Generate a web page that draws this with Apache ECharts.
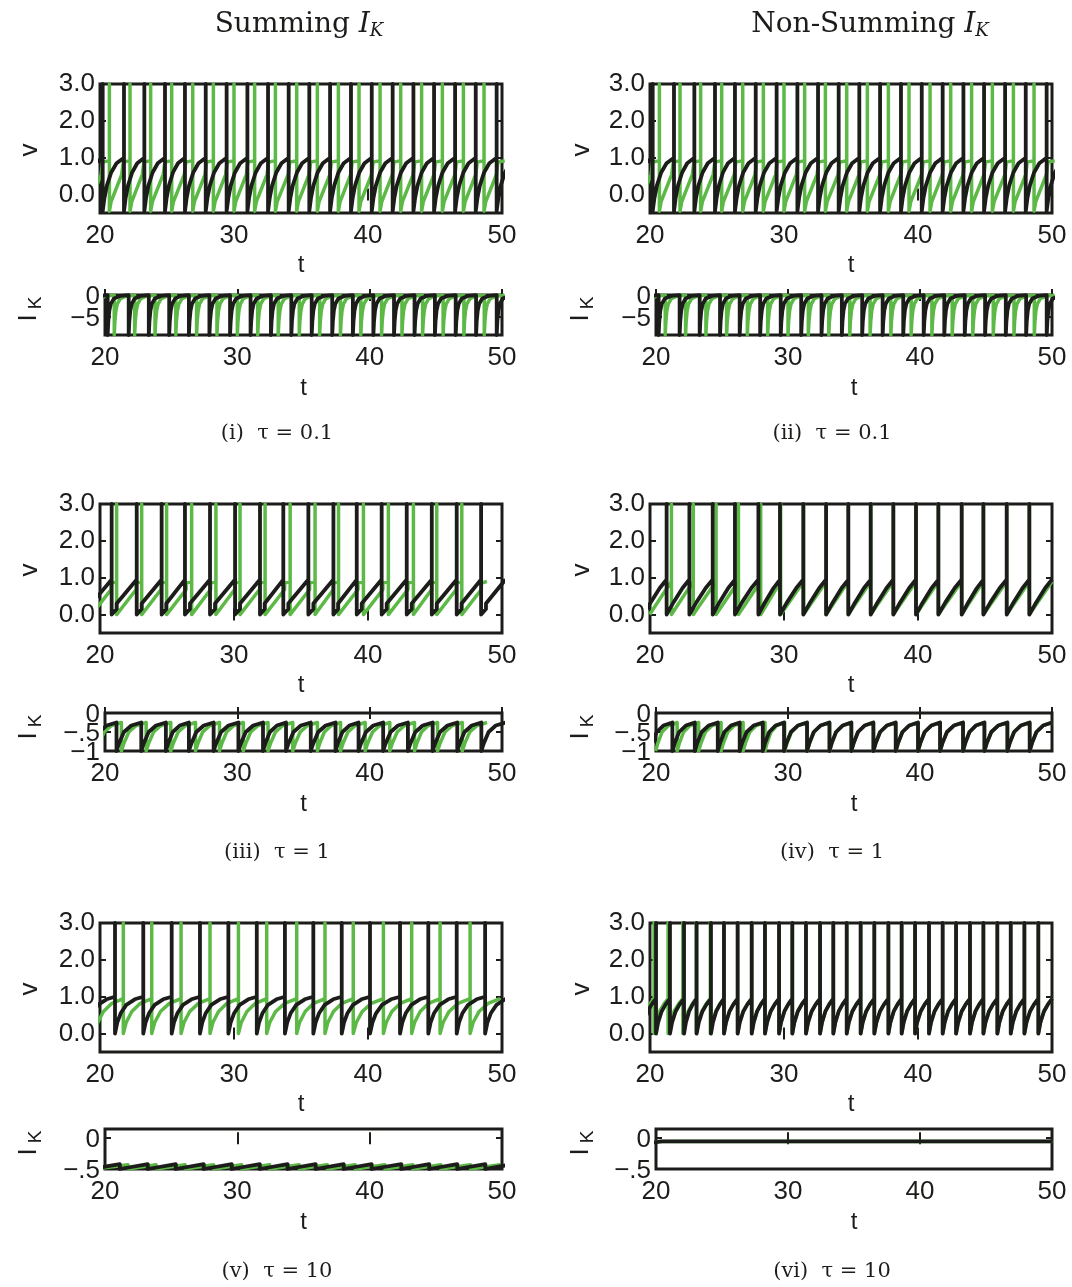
<!DOCTYPE html>
<html>
<head>
<meta charset="utf-8">
<script src="https://cdn.jsdelivr.net/npm/echarts@6/dist/echarts.min.js"></script>
<style>
  html, body { margin: 0; padding: 0; background: #fff; }
  #grid { width: 1072px; height: 1287px; }
</style>
</head>
<body>
<div id="grid"></div>
<script>
const myChart = echarts.init(document.getElementById('grid'));

const black = '#1c1c1a';
const green = '#5cb946';

// spike times (t)
const vBlack1 = [20.2, 21.79, 23.31, 24.85, 26.34, 27.89, 29.45, 31.0, 32.54, 34.08, 35.62, 37.17, 38.73, 40.28, 41.84, 43.39, 44.93, 46.5, 48.04, 49.6];
const vGreen1 = [20.7, 22.24, 23.78, 25.35, 26.92, 28.46, 30.0, 31.54, 33.09, 34.68, 36.22, 37.79, 39.33, 40.9, 42.44, 44.0, 45.55, 47.12, 48.66];
const vBlack2 = [20.2, 21.79, 23.31, 24.85, 26.34, 27.89, 29.45, 31.0, 32.54, 34.08, 35.62, 37.17, 38.73, 40.28, 41.84, 43.39, 44.93, 46.5, 48.04, 49.6];
const vGreen2 = [20.7, 22.24, 23.78, 25.35, 26.92, 28.46, 30.0, 31.54, 33.09, 34.68, 36.22, 37.79, 39.33, 40.9, 42.44, 44.0, 45.55, 47.12, 48.66];
const vBlack3 = [20.87, 22.74, 24.6, 26.34, 28.21, 30.08, 31.94, 33.68, 35.55, 37.42, 39.16, 41.02, 42.89, 44.76, 46.62, 48.44];
const vGreen3 = [21.24, 23.11, 24.97, 26.84, 28.65, 30.45, 32.32, 34.19, 36.05, 37.8, 39.66, 41.52, 43.39, 45.13, 47.0];
const vBlack4 = [21.24, 22.94, 24.68, 26.34, 28.09, 29.7, 31.44, 33.14, 34.8, 36.47, 38.16, 39.85, 41.52, 43.26, 44.88, 46.62, 48.31];
const vGreen4 = [21.6, 23.23, 24.93, 26.6, 28.26, 29.75, 31.46, 33.15, 34.8, 36.47, 38.16, 39.85, 41.52, 43.26, 44.88, 46.62, 48.31];
const vBlack5 = [21.12, 23.23, 25.35, 27.46, 29.58, 31.7, 33.8, 35.92, 38.04, 40.15, 42.39, 44.5, 46.62, 48.74];
const vGreen5 = [21.74, 23.86, 26.05, 28.21, 30.33, 32.44, 34.68, 36.79, 38.9, 41.15, 43.26, 45.38, 47.62];
const vBlack6 = [20.45, 21.49, 22.54, 23.48, 24.55, 25.52, 26.54, 27.59, 28.58, 29.63, 30.62, 31.64, 32.69, 33.68, 34.68, 35.72, 36.74, 37.79, 38.78, 39.78, 40.82, 41.84, 42.84, 43.88, 44.88, 45.92, 46.92, 47.94, 48.98];
const vGreen6 = [20.3, 21.35, 22.45, 23.45, 24.5, 25.52, 26.54, 27.59, 28.58, 29.63, 30.62, 31.64, 32.69, 33.68, 34.68, 35.72, 36.74, 37.79, 38.78, 39.78, 40.82, 41.84, 42.84, 43.88, 44.88, 45.92, 46.92, 47.94, 48.98];

// one inter-spike cycle: [fraction of interval, value]
const vShapeBlack1 = [[0, -0.45], [0.08, -0.1], [0.2, 0.25], [0.4, 0.6], [0.65, 0.85], [1, 1.0]];
const vShapeGreen1 = [[0, -0.45], [0.08, -0.2], [0.6, 0.55], [0.67, 0.6], [0.67, 0.88], [1, 0.92]];
const vShapeBlack3 = [[0, 0], [0.2, 0.15], [0.2, 0.3], [1, 0.95]];
const vShapeGreen3 = [[0, 0], [0.78, 0.68], [0.78, 0.85], [1, 0.9]];
const vShapeBlack4 = [[0, 0], [0.3, 0.33], [0.7, 0.72], [1, 0.95]];
const vShapeGreen4 = [[0, 0], [1, 0.9]];
const vShapeBlack5 = [[0, 0], [0.08, 0.3], [0.2, 0.55], [0.4, 0.78], [0.7, 0.93], [1, 1.0]];
const vShapeGreen5 = [[0, 0], [0.1, 0.3], [0.3, 0.6], [0.6, 0.82], [1, 0.95]];
const vShapeBlack6 = [[0, 0], [0.15, 0.3], [0.4, 0.6], [0.7, 0.8], [1, 0.95]];

const ikShape1 = [[0, -9], [0.03, -6], [0.08, -3.5], [0.15, -2], [0.3, -0.8], [0.6, -0.2], [1, -0.05]];
const ikShape3 = [[0, -1], [0.1, -0.8], [0.3, -0.5], [0.6, -0.33], [1, -0.25]];
const ikShapeBlack5 = [[0, -0.5], [1, -0.42]];
const ikShapeGreen5 = [[0, -0.49], [1, -0.43]];
const ikShapeBlack6 = [[0, -0.08], [1, -0.05]];
const ikShapeGreen6 = [[0, -0.07], [1, -0.055]];

const vTicks = [0, 1, 2, 3];
const ikTicks1 = [-5, 0];
const ikTicks3 = [-1, -0.5, 0];
const ikTicks5 = [-0.5, 0];
const ikTickText = { '0': '0', '-5': '\u22125', '-1': '\u22121', '-0.5': '\u2212.5' };

const captions = ['(i)  \u03c4 = 0.1', '(ii)  \u03c4 = 0.1', '(iii)  \u03c4 = 1', '(iv)  \u03c4 = 1', '(v)  \u03c4 = 10', '(vi)  \u03c4 = 10'];

function trace(spikes, top, shape) {
  const n = spikes.length;
  const all = [spikes[0] - (spikes[1] - spikes[0])].concat(spikes, [spikes[n - 1] + (spikes[n - 1] - spikes[n - 2])]);
  const pts = [];
  for (let k = 0; k < all.length - 1; k++) {
    const a = all[k];
    const b = all[k + 1];
    if (k > 0) pts.push([a, top]);
    shape.forEach(([f, v]) => pts.push([a + f * (b - a), v]));
  }
  return pts;
}

const sans = 'Liberation Sans, Arial, sans-serif';
const serif = 'DejaVu Serif, serif';

const colLeft = [100, 650];
const ikLeft = [105, 656];
const vTop = [84, 504, 923];
const ikTop = [295, 713, 1129];
const ikHeight = [40, 38, 40];

const panels = [
  { col: 0, row: 0, vb: vBlack1, vg: vGreen1, sb: vShapeBlack1, sg: vShapeGreen1, ib: ikShape1, ig: ikShape1, iTop: -9, imin: -9, imax: 0, it: ikTicks1 },
  { col: 1, row: 0, vb: vBlack2, vg: vGreen2, sb: vShapeBlack1, sg: vShapeGreen1, ib: ikShape1, ig: ikShape1, iTop: -9, imin: -9, imax: 0, it: ikTicks1 },
  { col: 0, row: 1, vb: vBlack3, vg: vGreen3, sb: vShapeBlack3, sg: vShapeGreen3, ib: ikShape3, ig: ikShape3, iTop: -1, imin: -1, imax: 0, it: ikTicks3 },
  { col: 1, row: 1, vb: vBlack4, vg: vGreen4, sb: vShapeBlack4, sg: vShapeGreen4, ib: ikShape3, ig: ikShape3, iTop: -1, imin: -1, imax: 0, it: ikTicks3 },
  { col: 0, row: 2, vb: vBlack5, vg: vGreen5, sb: vShapeBlack5, sg: vShapeGreen5, ib: ikShapeBlack5, ig: ikShapeGreen5, iTop: -0.5, imin: -0.5, imax: 0.15, it: ikTicks5 },
  { col: 1, row: 2, vb: vBlack6, vg: vGreen6, sb: vShapeBlack6, sg: vShapeBlack6, ib: ikShapeBlack6, ig: ikShapeGreen6, iTop: -0.08, imin: -0.5, imax: 0.15, it: ikTicks5 },
];

const grids = [];
const xAxes = [];
const yAxes = [];
const series = [];
const graphic = [];
const ikLabelJobs = [];

function addAxes(gi, min, max, ticks, showLabels) {
  const tickStyle = { show: true, inside: true, length: 6, lineStyle: { color: black, width: 2 } };
  xAxes.push({
    gridIndex: gi, type: 'value', min: 20, max: 50, interval: 10,
    axisLine: { show: false }, splitLine: { show: false },
    axisTick: tickStyle,
    axisLabel: { color: black, fontSize: 26, fontFamily: sans, margin: 10, hideOverlap: false, showMinLabel: true, showMaxLabel: true },
  });
  xAxes.push({
    gridIndex: gi, type: 'value', min: 20, max: 50, interval: 10, position: 'top',
    axisLine: { show: false }, splitLine: { show: false },
    axisTick: tickStyle, axisLabel: { show: false },
  });
  yAxes.push({
    gridIndex: gi, type: 'value', min: min, max: max,
    axisLine: { show: false }, splitLine: { show: false },
    axisTick: Object.assign({ customValues: ticks }, tickStyle),
    axisLabel: {
      show: showLabels, customValues: ticks, color: black, fontSize: 26, fontFamily: sans, margin: 5,
      formatter: (v) => Number(v).toFixed(1),
    },
  });
  yAxes.push({
    gridIndex: gi, type: 'value', min: min, max: max, position: 'right',
    axisLine: { show: false }, splitLine: { show: false },
    axisTick: Object.assign({ customValues: ticks }, tickStyle),
    axisLabel: { show: false },
  });
}

function addLine(gi, data, color, width) {
  series.push({
    type: 'line', xAxisIndex: gi * 2, yAxisIndex: gi * 2, data: data,
    showSymbol: false, symbol: 'none', animation: false, silent: true,
    lineStyle: { color: color, width: width, join: 'round' },
  });
}

function text(list, x, y, str, font, extra) {
  list.push(Object.assign({
    type: 'text', x: x, y: y, silent: true,
    style: { text: str, font: font, fill: black, align: 'center', verticalAlign: 'middle' },
  }, extra || {}));
}

panels.forEach((p, idx) => {
  // v panel
  const gv = grids.length;
  grids.push({ left: colLeft[p.col], top: vTop[p.row], width: 402, height: 129, show: true, borderColor: black, borderWidth: 3, backgroundColor: 'transparent' });
  addAxes(gv, -0.5, 3, vTicks, true);
  addLine(gv, trace(p.vg, 3, p.sg), green, 3.5);
  addLine(gv, trace(p.vb, 3, p.sb), black, 3.8);

  // I_K panel
  const gi = grids.length;
  const w = colLeft[p.col] + 402 - ikLeft[p.col];
  grids.push({ left: ikLeft[p.col], top: ikTop[p.row], width: w, height: ikHeight[p.row], show: true, borderColor: black, borderWidth: 3, backgroundColor: 'transparent' });
  addAxes(gi, p.imin, p.imax, p.it, false);
  addLine(gi, trace(p.vg, p.iTop, p.ig), green, 3.5);
  addLine(gi, trace(p.vb, p.iTop, p.ib), black, 3.8);
  ikLabelJobs.push({ axis: gi * 2, left: ikLeft[p.col], ticks: p.it });

  const cx = colLeft[p.col] + 201;
  const lx = p.col === 0 ? 30 : 582;
  // axis names
  text(graphic, lx, vTop[p.row] + 66, 'v', '26px ' + sans, { rotation: Math.PI / 2 });
  text(graphic, cx, vTop[p.row] + 181, 't', '24px ' + sans);
  text(graphic, lx - 1, ikTop[p.row] + 23, 'I', '26px ' + sans, { rotation: Math.PI / 2 });
  text(graphic, lx + 6, ikTop[p.row] + 8, 'K', '19px ' + sans, { rotation: Math.PI / 2 });
  text(graphic, ikLeft[p.col] + w / 2, ikTop[p.row] + ikHeight[p.row] + 53, 't', '24px ' + sans);
  // caption
  text(graphic, p.col === 0 ? 277 : 832, [434, 853, 1272][p.row], captions[idx], '21px ' + serif);
});

// column titles
function title(x, str) {
  graphic.push({
    type: 'text', x: x, y: 25, silent: true,
    style: {
      text: '{n|' + str + ' }{i|I}{k|K}', align: 'center', verticalAlign: 'middle', fill: black,
      rich: {
        n: { font: '28px ' + serif, fill: black },
        i: { font: 'italic 28px ' + serif, fill: black },
        k: { font: 'italic 18px ' + serif, fill: black, padding: [12, 0, 0, 0] },
      },
    },
  });
}
title(299, 'Summing');
title(870, 'Non-Summing');

const option = {
  animation: false,
  backgroundColor: '#fff',
  grid: grids,
  xAxis: xAxes,
  yAxis: yAxes,
  series: series,
  graphic: graphic,
};

myChart.setOption(option);

// I_K tick labels sit closer together than ECharts allows, so place them from the axis scale
const ikLabels = [];
ikLabelJobs.forEach((job) => {
  job.ticks.forEach((v) => {
    const y = myChart.convertToPixel({ yAxisIndex: job.axis }, v);
    ikLabels.push({
      type: 'text', x: job.left - 5, y: y + 2, silent: true,
      style: { text: ikTickText[String(v)], font: '26px ' + sans, fill: black, align: 'right', verticalAlign: 'middle' },
    });
  });
});
myChart.setOption({ graphic: graphic.concat(ikLabels) });
</script>
</body>
</html>
